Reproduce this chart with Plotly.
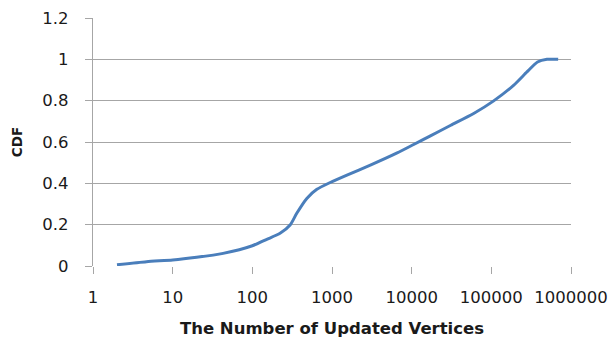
import plotly.graph_objects as go

# Number of updated vertices per step and the cumulative fraction
updated_vertices = [2, 4.7, 10, 20, 43, 100, 152, 223, 298, 361, 483, 646, 949,
                    1540, 3030, 6570, 10600, 17200, 31000, 60000, 107000, 190000,
                    280000, 380000, 500000, 690000]
cdf_values = [0.006, 0.021, 0.029, 0.042, 0.061, 0.098, 0.129, 0.158, 0.198,
              0.255, 0.327, 0.371, 0.404, 0.44, 0.488, 0.547, 0.588, 0.63, 0.681,
              0.738, 0.799, 0.874, 0.939, 0.987, 1.0, 1.0]

x_ticks = [1, 10, 100, 1000, 10000, 100000, 1000000]
x_tick_labels = ["1", "10", "100", "1000", "10000", "100000", "1000000"]
y_ticks = [0, 0.2, 0.4, 0.6, 0.8, 1.0, 1.2]
y_tick_labels = ["0", "0.2", "0.4", "0.6", "0.8", "1", "1.2"]

FONT = "'DejaVu Sans', sans-serif"
TEXT = "#1a1a1a"
GRID = "#a6a6a6"

fig = go.Figure(go.Scatter(
    x=updated_vertices, y=cdf_values, mode="lines",
    line=dict(color="#4a7ebb", width=3, shape="spline", smoothing=0.6),
    showlegend=False,
))

fig.update_layout(
    width=614, height=350,
    margin=dict(l=93, r=43, t=18, b=84),
    paper_bgcolor="white", plot_bgcolor="white",
    font=dict(family=FONT, size=16.5, color=TEXT),
    xaxis=dict(
        type="log", range=[0, 6], automargin=False,
        tickvals=x_ticks, ticktext=x_tick_labels,
        tickfont=dict(family=FONT, size=16.5, color=TEXT),
        showgrid=False, zeroline=False,
        showline=False,
        ticks="outside", ticklen=7, tickcolor=GRID, tickwidth=1.3,
        ticklabelstandoff=9,
        title=dict(text="<b>The Number of Updated Vertices</b>",
                   font=dict(family=FONT, size=16.5, color=TEXT), standoff=16),
    ),
    yaxis=dict(
        range=[0, 1.2], automargin=False,
        tickvals=y_ticks, ticktext=y_tick_labels,
        tickfont=dict(family=FONT, size=16.5, color=TEXT),
        showgrid=True, gridcolor=GRID, gridwidth=1.3,
        zeroline=False,
        showline=True, linecolor=GRID, linewidth=1.3,
        ticks="outside", ticklen=7, tickcolor=GRID, tickwidth=1.3,
        ticklabelstandoff=13,
        title=dict(text="<b>CDF</b>",
                   font=dict(family=FONT, size=13.5, color=TEXT), standoff=16),
    ),
)

fig.write_html("out.html")
